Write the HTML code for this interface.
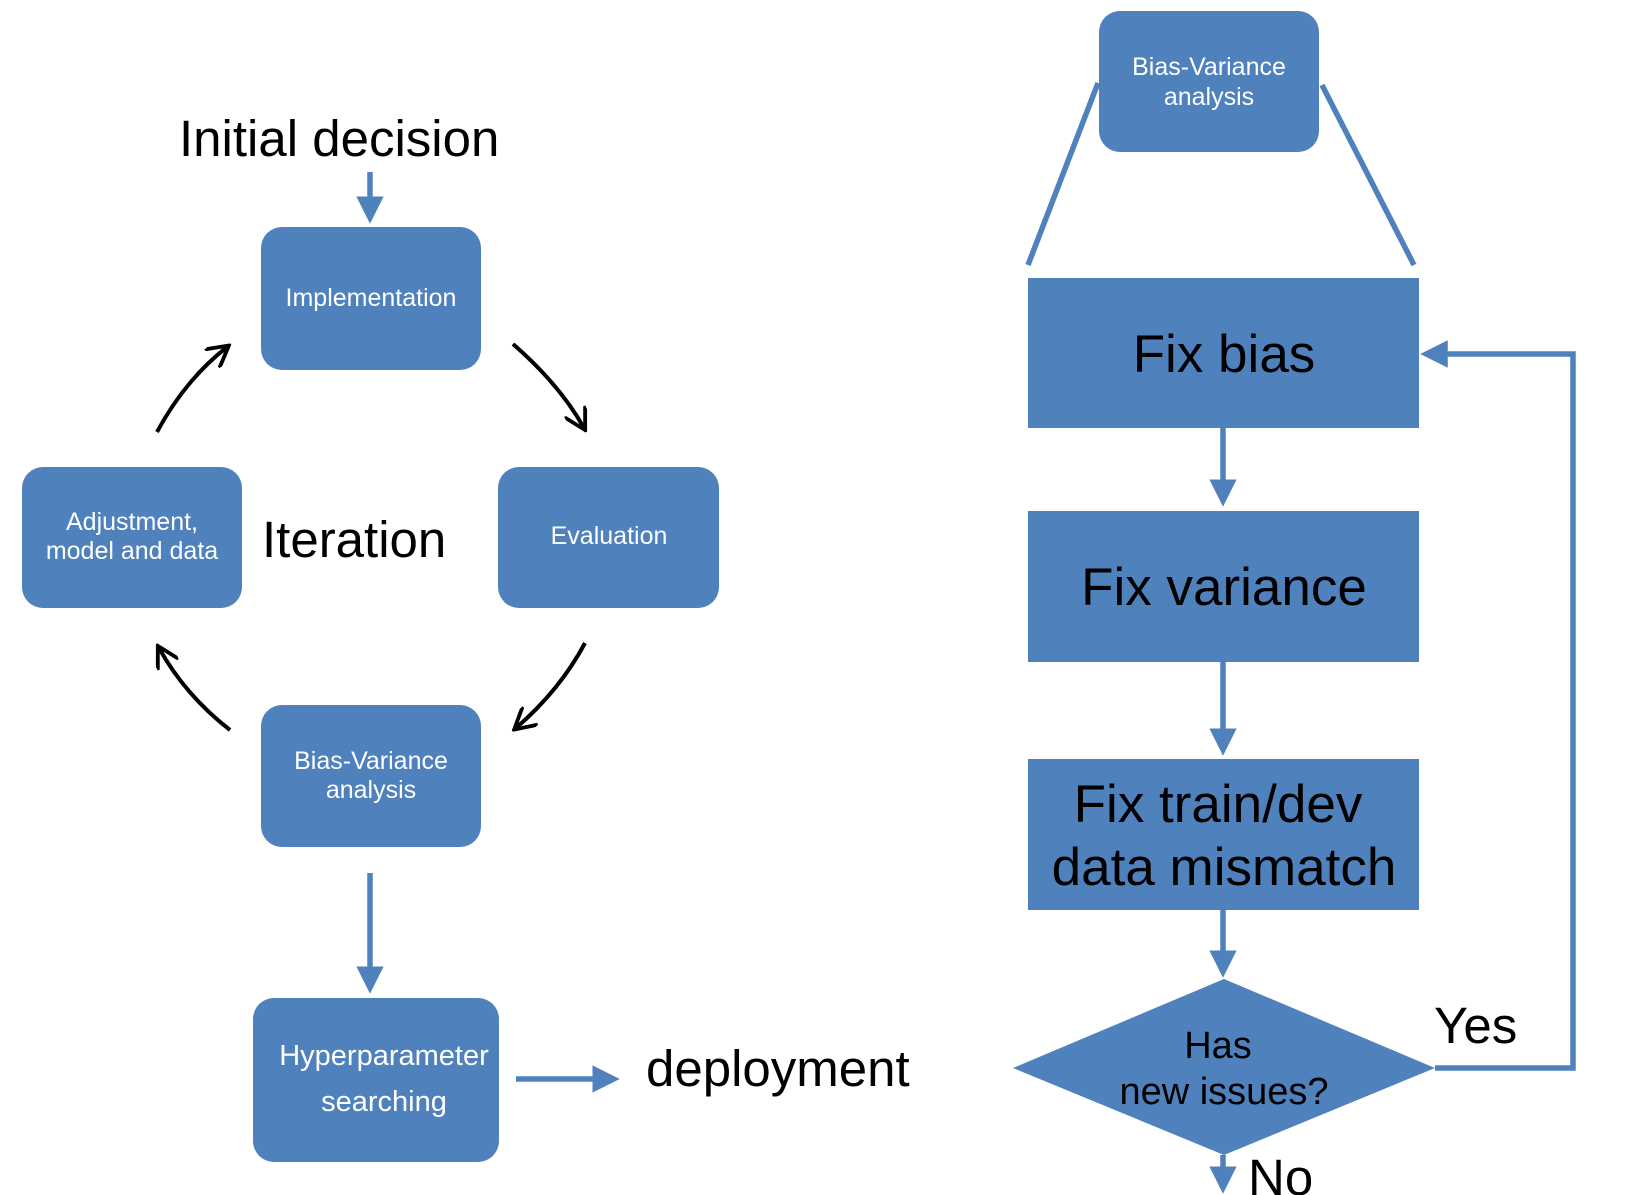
<!DOCTYPE html>
<html><head><meta charset="utf-8"><style>
html,body{margin:0;padding:0;background:#fff;}
svg{display:block;font-family:"Liberation Sans",Arial,sans-serif;}
</style></head><body>
<svg width="1650" height="1195" viewBox="0 0 1650 1195" xmlns="http://www.w3.org/2000/svg">
<defs>
<marker id="bh" markerWidth="5" markerHeight="5" refX="2.5" refY="2.5" orient="auto" markerUnits="strokeWidth"><path d="M0,0 L5,2.5 L0,5 z" fill="#4F81BD"/></marker>
<marker id="kh" viewBox="0 0 10 10" markerWidth="6" markerHeight="6" refX="8" refY="5" orient="auto" markerUnits="strokeWidth"><path d="M0,0 L9,5 L0,10" fill="none" stroke="#000" stroke-width="1.6"/></marker>
</defs>
<g fill="#4F81BD">
<rect x="261" y="227" width="220" height="143" rx="21"/>
<rect x="498" y="467" width="221" height="141" rx="21"/>
<rect x="22" y="467" width="220" height="141" rx="21"/>
<rect x="261" y="705" width="220" height="142" rx="21"/>
<rect x="253" y="998" width="246" height="164" rx="21"/>
</g>
<g stroke="#4F81BD" stroke-width="5.5" fill="none">
<line x1="370" y1="172" x2="370" y2="210" marker-end="url(#bh)"/>
<line x1="370" y1="873" x2="370" y2="980" marker-end="url(#bh)"/>
<line x1="516" y1="1079" x2="606" y2="1079" marker-end="url(#bh)"/>
</g>
<g stroke="#000" stroke-width="4" fill="none">
<path d="M513,344 Q560,385 584,428" marker-end="url(#kh)"/>
<path d="M585,643 Q560,690 516,728" marker-end="url(#kh)"/>
<path d="M230,730 Q185,695 159,648" marker-end="url(#kh)"/>
<path d="M157,432 Q185,380 227,347" marker-end="url(#kh)"/>
</g>
<g fill="#fff" text-anchor="middle" font-size="25">
<text x="371" y="306">Implementation</text>
<text x="609" y="544">Evaluation</text>
<text x="132" y="530">Adjustment,</text>
<text x="132" y="559">model and data</text>
<text x="371" y="769">Bias-Variance</text>
<text x="371" y="798">analysis</text>
<text x="384" y="1065" font-size="29">Hyperparameter</text>
<text x="384" y="1111" font-size="29">searching</text>
</g>
<g fill="#000" font-size="51">
<text x="179" y="156">Initial decision</text>
<text x="262" y="557">Iteration</text>
<text x="646" y="1086">deployment</text>
</g>
<g transform="translate(-6,0)">
<g fill="#4F81BD">
<rect x="1105" y="11" width="220" height="141" rx="21"/>
<rect x="1034" y="278" width="391" height="150"/>
<rect x="1034" y="511" width="391" height="151"/>
<rect x="1034" y="759" width="391" height="151"/>
<polygon points="1019,1068 1230,979 1441,1068 1230,1155"/>
</g>
<g stroke="#4F81BD" stroke-width="5.5" fill="none">
<line x1="1104" y1="83" x2="1034" y2="265"/>
<line x1="1328" y1="85" x2="1420" y2="265"/>
<line x1="1229" y1="428" x2="1229" y2="493" marker-end="url(#bh)"/>
<line x1="1229" y1="662" x2="1229" y2="742" marker-end="url(#bh)"/>
<line x1="1229" y1="910" x2="1229" y2="964" marker-end="url(#bh)"/>
<line x1="1229" y1="1155" x2="1229" y2="1180" marker-end="url(#bh)"/>
<polyline points="1441,1068 1579,1068 1579,354 1440,354" marker-end="url(#bh)"/>
</g>
<g fill="#fff" text-anchor="middle" font-size="25">
<text x="1215" y="75">Bias-Variance</text>
<text x="1215" y="105">analysis</text>
</g>
<g fill="#000" font-size="51">
<text x="1440" y="1043">Yes</text>
<text x="1254" y="1195">No</text>
</g>
<g fill="#000" text-anchor="middle" font-size="53">
<text x="1230" y="372">Fix bias</text>
<text x="1230" y="605">Fix variance</text>
<text x="1224" y="822">Fix train/dev</text>
<text x="1230" y="885">data mismatch</text>
<text x="1224" y="1058" font-size="38">Has</text>
<text x="1230" y="1104" font-size="38">new issues?</text>
</g>
</g>
</svg>
</body></html>
